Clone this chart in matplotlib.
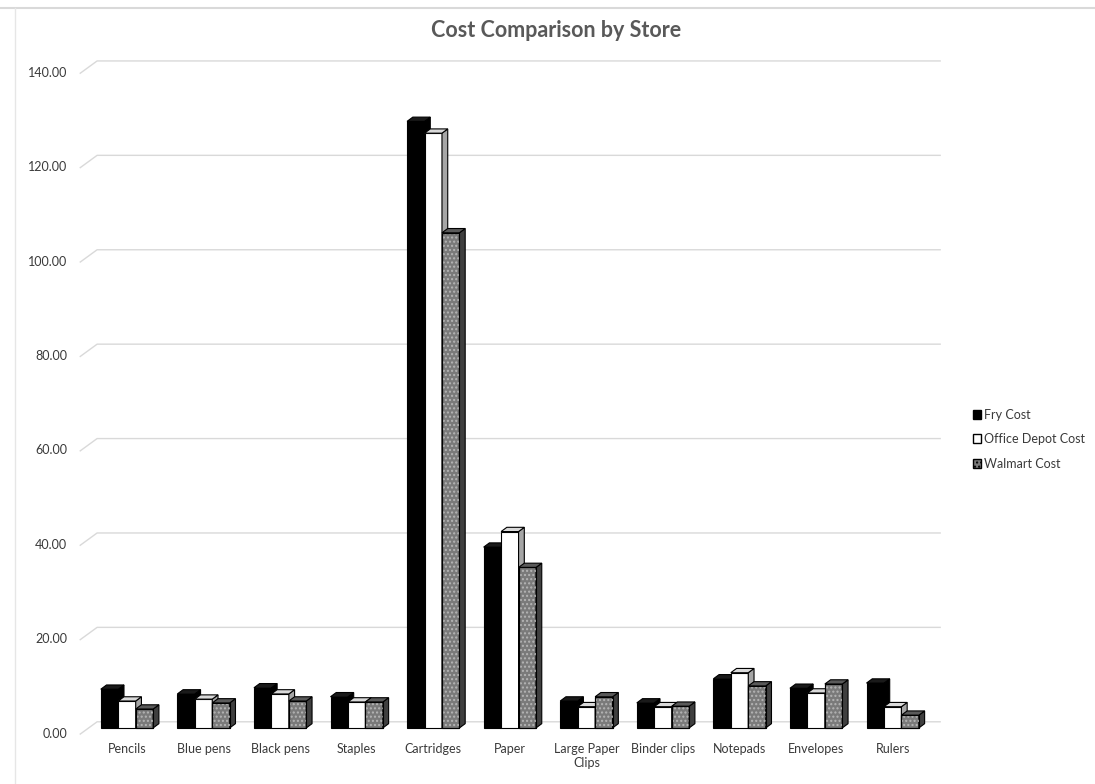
import matplotlib.pyplot as plt
from matplotlib.patches import Polygon, Patch
from matplotlib.lines import Line2D

# data
categories = ['Pencils', 'Blue pens', 'Black pens', 'Staples', 'Cartridges', 'Paper',
              'Large Paper\nClips', 'Binder clips', 'Notepads', 'Envelopes', 'Rulers']
fry = [8.2, 7.2, 8.5, 6.6, 128.5, 38.3, 5.7, 5.3, 10.4, 8.4, 9.5]
office_depot = [5.7, 6.1, 7.2, 5.5, 126.0, 41.6, 4.5, 4.5, 11.7, 7.4, 4.5]
walmart = [4.0, 5.3, 5.7, 5.5, 104.9, 34.0, 6.6, 4.6, 8.9, 9.3, 2.7]
series_names = ['Fry Cost', 'Office Depot Cost', 'Walmart Cost']
yticks = [0, 20, 40, 60, 80, 100, 120, 140]

plt.rcParams['font.family'] = ['Lato', 'DejaVu Sans']

fig = plt.figure(figsize=(10.95, 7.84), dpi=100)
ax = fig.add_axes([0.0726, 0.0625, 0.786, 0.870])
ax.set_xlim(-0.62, 10.62)
ax.set_ylim(-1.5, 143)

w = 0.228      # bar width (category units)
dx = 0.075     # fake depth, x
dy = 0.9       # fake depth, y (value units)
floor = 1.3    # half depth of the floor

# gridlines with the little 3d wall step on the left
for v in yticks:
    ax.plot([-0.61, -0.39, 10.62], [v - floor, v + floor, v + floor],
            color='#d9d9d9', lw=1.0, zorder=0, clip_on=False)

styles = [
    # front, side, top, hatch
    ('#000000', '#000000', '#1a1a1a', None),
    ('#ffffff', '#a6a6a6', '#d9d9d9', None),
    ('#7a7a7a', '#3f3f3f', '#5a5a5a', '....'),
]

z = 2
for i in range(len(categories)):
    for k, vals in enumerate([fry, office_depot, walmart]):
        v = vals[i]
        front, side, top, hatch = styles[k]
        x0 = i + (k - 1) * w - w / 2
        x1 = x0 + w
        ax.bar(x0, v, width=w, align='edge', color=front, edgecolor='black',
               lw=0.8, zorder=z)
        if hatch:
            ax.bar(x0, v, width=w, align='edge', color='none', edgecolor='#b5b5b5',
                   hatch=hatch, lw=0, zorder=z + 0.1)
            ax.bar(x0, v, width=w, align='edge', color='none', edgecolor='black',
                   lw=0.8, zorder=z + 0.2)
        sidep = Polygon([(x1, 0), (x1 + dx, dy), (x1 + dx, v + dy), (x1, v)],
                        closed=True, facecolor=side, edgecolor='black', lw=0.8, zorder=z)
        topp = Polygon([(x0, v), (x0 + dx, v + dy), (x1 + dx, v + dy), (x1, v)],
                       closed=True, facecolor=top, edgecolor='black', lw=0.8, zorder=z)
        ax.add_patch(sidep)
        ax.add_patch(topp)
        z += 1

for s in ax.spines.values():
    s.set_visible(False)
ax.set_xticks(range(len(categories)))
ax.set_xticklabels(categories, fontsize=9, color='#3a3a3a')
ax.set_yticks([v - 1.0 for v in yticks])
ax.set_yticklabels(['%.2f' % v for v in yticks], fontsize=9, color='#3a3a3a')
ax.tick_params(axis='x', length=0, pad=6)
ax.tick_params(axis='y', length=0, pad=9)

fig.text(0.508, 0.961, 'Cost Comparison by Store', ha='center', va='center',
         fontsize=15.5, fontweight='bold', color='#595959')

handles = [Patch(facecolor='black', edgecolor='black'),
           Patch(facecolor='white', edgecolor='black'),
           Patch(facecolor='#7a7a7a', edgecolor='black', hatch='....')]
fig.legend(handles, series_names, loc='center left', bbox_to_anchor=(0.878, 0.44),
           frameon=False, fontsize=9, handlelength=0.7, handleheight=0.7,
           handletextpad=0.2, labelspacing=1.0, labelcolor='#3a3a3a')

# faint border lines of the screenshot
fig.add_artist(Line2D([0, 1], [0.99, 0.99], color='#d9d9d9', lw=1.5))
fig.add_artist(Line2D([0.014, 0.014], [0, 0.99], color='#e6e6e6', lw=1.0))

fig.savefig('out.png', dpi=100)
